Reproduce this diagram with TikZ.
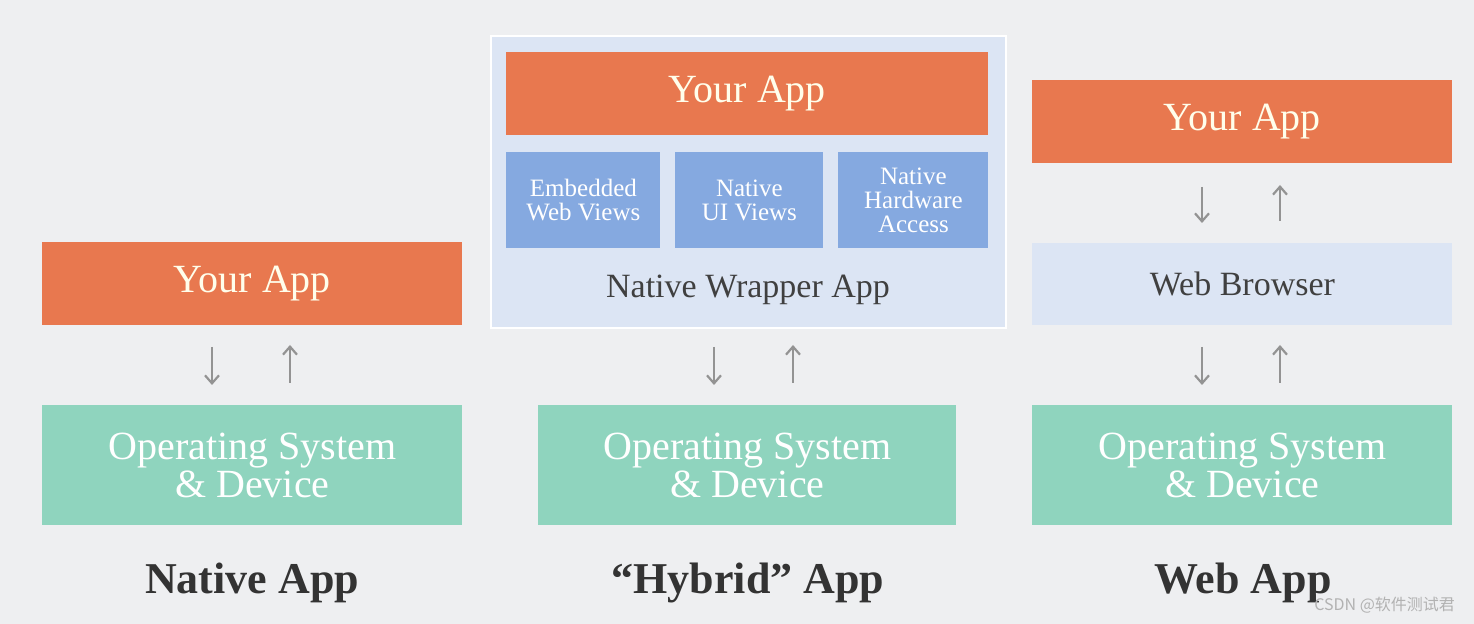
\documentclass[tikz,border=0pt]{standalone}
\usepackage{fontspec}
\setmainfont{Liberation Serif}
\newfontfamily\cjk{Noto Sans CJK SC}
\usetikzlibrary{arrows.meta}
\definecolor{appred}{HTML}{E8784F}
\definecolor{osgreen}{HTML}{8FD4BE}
\definecolor{wrapblue}{HTML}{DCE5F4}
\definecolor{viewblue}{HTML}{85A9E0}
\definecolor{bggray}{HTML}{EEEFF1}
\tikzset{
    box/.style={rectangle, draw=none, inner sep=0pt, anchor=north west},
    app/.style={box, fill=appred, text=white!92!yellow, font=\fontsize{20}{22}\selectfont},
    os/.style={box, fill=osgreen, text=white, align=center, font=\fontsize{20}{19}\selectfont},
    view/.style={box, fill=viewblue, text=white, align=center, font=\fontsize{12.5}{12}\selectfont},
    flow/.style={draw=gray!85, line width=1.1pt, -{Straight Barb[length=4pt,width=7pt]}},
    title/.style={font=\bfseries\fontsize{22}{24}\selectfont, text=black!80}
}
\begin{document}
\begin{tikzpicture}[x=0.5pt, y=-0.5pt]
        \fill[bggray] (0,0) rectangle (1474,624);
        \useasboundingbox (0,0) rectangle (1474,624);
        % native
        \node (napp) [app, minimum width=210pt, minimum height=41.5pt] at (42,242) {Your App};
        \node (nos) [os, minimum width=210pt, minimum height=60pt] at (42,405) {Operating System\\\& Device};
        \coordinate (nd1) at (212,347); \coordinate (nd2) at (212,385);
        \coordinate (nu1) at (290,383); \coordinate (nu2) at (290,345);
        \draw[flow] (nd1) -- (nd2);
        \draw[flow] (nu1) -- (nu2);
        \node (ntitle) [title] at (252,583) {Native App};
        % hybrid
        \node (wrap) [box, fill=wrapblue, draw=white, line width=1pt, minimum width=257.5pt, minimum height=146pt] at (490,35) {};
        \node (happ) [app, minimum width=241pt, minimum height=41.5pt] at (506,52) {Your App};
        \node (web) [view, minimum width=77pt, minimum height=48pt] at (506,152) {Embedded\\Web Views};
        \node (ui) [view, minimum width=74pt, minimum height=48pt] at (675,152) {Native\\UI Views};
        \node (hw) [view, minimum width=75pt, minimum height=48pt] at (838,152) {Native\\Hardware\\Access};
        \node (wraptext) [font=\fontsize{17}{19}\selectfont, text=black!75] at (748,290) {Native Wrapper App};
        \node (hos) [os, minimum width=209pt, minimum height=60pt] at (538,405) {Operating System\\\& Device};
        \coordinate (hd1) at (714,347); \coordinate (hd2) at (714,385);
        \coordinate (hu1) at (793,383); \coordinate (hu2) at (793,345);
        \draw[flow] (hd1) -- (hd2);
        \draw[flow] (hu1) -- (hu2);
        \node (htitle) [title] at (748,583) {``Hybrid'' App};
        % web
        \node (wapp) [app, minimum width=210pt, minimum height=41.5pt] at (1032,80) {Your App};
        \node (browser) [box, fill=wrapblue, text=black!75, font=\fontsize{17}{19}\selectfont, minimum width=210pt, minimum height=41pt] at (1032,243) {Web Browser};
        \node (wos) [os, minimum width=210pt, minimum height=60pt] at (1032,405) {Operating System\\\& Device};
        \coordinate (wd1) at (1202,187); \coordinate (wd2) at (1202,223);
        \coordinate (wu1) at (1280,221); \coordinate (wu2) at (1280,185);
        \draw[flow] (wd1) -- (wd2);
        \draw[flow] (wu1) -- (wu2);
        \coordinate (wd3) at (1202,347); \coordinate (wd4) at (1202,385);
        \coordinate (wu3) at (1280,383); \coordinate (wu4) at (1280,345);
        \draw[flow] (wd3) -- (wd4);
        \draw[flow] (wu3) -- (wu4);
        \node (wtitle) [title] at (1243,583) {Web App};
        \node (mark) [anchor=east, text=gray!60, font=\cjk\fontsize{8}{9}\selectfont] at (1462,605) {CSDN @软件测试君};
\end{tikzpicture}
\end{document}
